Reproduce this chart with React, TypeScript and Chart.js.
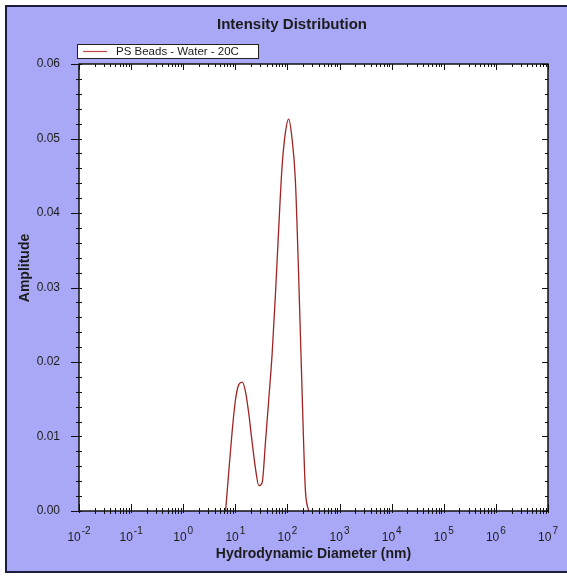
import React, { useEffect, useRef } from 'react';
import { Chart, registerables } from 'chart.js';

Chart.register(...registerables);

const TITLE = 'Intensity Distribution';
const SERIES_NAME = 'PS Beads - Water - 20C';
const X_TITLE = 'Hydrodynamic Diameter (nm)';
const Y_TITLE = 'Amplitude';

// Size classes (nm) and intensity amplitudes
const SIZE_NM = [6.503, 7.531, 8.721, 10.1, 11.7, 13.54, 15.69, 18.17, 21.04, 24.36, 28.21, 32.67, 37.84, 43.82, 50.75, 58.77, 68.06, 78.82, 91.28, 105.7, 122.4, 141.8, 164.2, 190.1, 220.2, 255.0];
const AMPLITUDE = [0, 0.0055, 0.0108, 0.015, 0.017, 0.0173, 0.016, 0.013, 0.0092, 0.0057, 0.0034, 0.0038, 0.0092, 0.015, 0.021, 0.029, 0.038, 0.0462, 0.0508, 0.0526, 0.05, 0.0445, 0.0315, 0.0165, 0.003, 0];

const X_EXPONENTS = [-2, -1, 0, 1, 2, 3, 4, 5, 6, 7];
const X_MINOR_FACTORS = [2, 3, 4, 5, 6, 7, 8, 9];
const Y_TICKS = [0, 0.01, 0.02, 0.03, 0.04, 0.05, 0.06];
const Y_MINOR_PER_MAJOR = 4;

const FONT = '"Liberation Sans", Arial, Helvetica, sans-serif';
const BG = '#a8a8f6';
const LINE_COLOR = 'rgb(160,36,36)';
const AXIS_COLOR = '#111111';
const TEXT_COLOR = '#1c1c1c';

const decorPlugin = {
  id: 'decor',
  beforeDraw(chart: any) {
    const { ctx, chartArea: a } = chart;
    ctx.save();
    ctx.fillStyle = '#ffffff';
    ctx.fillRect(a.left, a.top, a.right - a.left, a.bottom - a.top);
    ctx.restore();
  },
  afterDraw(chart: any) {
    const { ctx, chartArea: a, scales } = chart;
    const xs = scales.x;
    const ys = scales.y;
    ctx.save();
    ctx.strokeStyle = AXIS_COLOR;
    ctx.lineWidth = 1;
    ctx.beginPath();
    // x ticks (bottom and top)
    X_EXPONENTS.forEach((e, i) => {
      const px = Math.round(xs.getPixelForValue(Math.pow(10, e))) + 0.5;
      ctx.moveTo(px, a.bottom - 7);
      ctx.lineTo(px, a.bottom + 2);
      ctx.moveTo(px, a.top);
      ctx.lineTo(px, a.top + 6);
      if (i < X_EXPONENTS.length - 1) {
        X_MINOR_FACTORS.forEach((f) => {
          const pm = Math.round(xs.getPixelForValue(f * Math.pow(10, e))) + 0.5;
          ctx.moveTo(pm, a.bottom - 3);
          ctx.lineTo(pm, a.bottom + 3);
          ctx.moveTo(pm, a.top);
          ctx.lineTo(pm, a.top + 3);
        });
      }
    });
    // y ticks (left and right)
    Y_TICKS.forEach((v, i) => {
      const py = Math.round(ys.getPixelForValue(v)) + 0.5;
      ctx.moveTo(a.left - 8, py);
      ctx.lineTo(a.left + 3, py);
      ctx.moveTo(a.right - 6, py);
      ctx.lineTo(a.right, py);
      if (i < Y_TICKS.length - 1) {
        const step = (Y_TICKS[i + 1] - v) / (Y_MINOR_PER_MAJOR + 1);
        for (let k = 1; k <= Y_MINOR_PER_MAJOR; k++) {
          const pm = Math.round(ys.getPixelForValue(v + k * step)) + 0.5;
          ctx.moveTo(a.left - 3, pm);
          ctx.lineTo(a.left + 3, pm);
          ctx.moveTo(a.right - 3, pm);
          ctx.lineTo(a.right, pm);
        }
      }
    });
    ctx.stroke();
    // plot frame
    ctx.lineWidth = 1.5;
    ctx.strokeRect(a.left, a.top, a.right - a.left, a.bottom - a.top);

    // x tick labels 10^e
    ctx.fillStyle = TEXT_COLOR;
    ctx.textBaseline = 'alphabetic';
    ctx.textAlign = 'left';
    X_EXPONENTS.forEach((e) => {
      const px = xs.getPixelForValue(Math.pow(10, e));
      const base = '10';
      const sup = String(e);
      ctx.font = `12px ${FONT}`;
      const w1 = ctx.measureText(base).width;
      ctx.font = `10px ${FONT}`;
      const w2 = ctx.measureText(sup).width;
      const x0 = px - (w1 + w2 + 1) / 2;
      ctx.font = `12px ${FONT}`;
      ctx.fillText(base, x0, a.bottom + 30);
      ctx.font = `10px ${FONT}`;
      ctx.fillText(sup, x0 + w1 + 1, a.bottom + 23);
    });

    // axis titles
    ctx.font = `bold 14px ${FONT}`;
    ctx.textAlign = 'center';
    ctx.textBaseline = 'middle';
    ctx.fillText(X_TITLE, (a.left + a.right) / 2, a.bottom + 43);
    ctx.save();
    ctx.translate(18, 261);
    ctx.rotate(-Math.PI / 2);
    ctx.fillText(Y_TITLE, 0, 0);
    ctx.restore();

    // chart title
    ctx.font = `bold 15px ${FONT}`;
    ctx.fillText(TITLE, 285, 18);

    // legend box
    const lx = 70, ly = 37.5, lw = 181, lh = 14;
    ctx.fillStyle = '#ffffff';
    ctx.fillRect(lx, ly, lw, lh);
    ctx.strokeStyle = '#222222';
    ctx.lineWidth = 1;
    ctx.strokeRect(lx + 0.5, ly, lw, lh);
    ctx.strokeStyle = 'rgb(190,70,70)';
    ctx.lineWidth = 1.2;
    ctx.beginPath();
    ctx.moveTo(lx + 6, ly + 7);
    ctx.lineTo(lx + 30, ly + 7);
    ctx.stroke();
    ctx.fillStyle = TEXT_COLOR;
    ctx.font = `11.5px ${FONT}`;
    ctx.textAlign = 'left';
    ctx.textBaseline = 'middle';
    ctx.fillText(SERIES_NAME, lx + 39, ly + 7.5);
    ctx.restore();
  },
};

export default function App() {
  const ref = useRef<HTMLCanvasElement>(null);
  useEffect(() => {
    const canvas = ref.current;
    if (!canvas) return;
    const chart = new Chart(canvas, {
      type: 'line',
      data: {
        datasets: [
          {
            label: SERIES_NAME,
            data: SIZE_NM.map((x, i) => ({ x, y: AMPLITUDE[i] })),
            borderColor: LINE_COLOR,
            borderWidth: 1.3,
            pointRadius: 0,
            fill: false,
            cubicInterpolationMode: 'monotone',
          },
        ],
      },
      options: {
        responsive: false,
        maintainAspectRatio: false,
        animation: false,
        layout: { padding: { left: 0, right: 19, top: 57, bottom: 60 } },
        plugins: {
          legend: { display: false },
          title: { display: false },
          tooltip: { enabled: false },
        },
        scales: {
          x: { type: 'logarithmic', min: 0.01, max: 1e7, display: false },
          y: {
            type: 'linear',
            min: 0,
            max: 0.06,
            afterFit: (s: any) => {
              s.width = 72;
            },
            grid: { display: false, drawTicks: false },
            border: { display: false },
            ticks: {
              stepSize: 0.01,
              padding: 19,
              color: TEXT_COLOR,
              font: { family: FONT, size: 12 },
              callback: (v: any) => Number(v).toFixed(2),
            },
          },
        },
      },
      plugins: [decorPlugin],
    } as any);
    return () => chart.destroy();
  }, []);

  return (
    <div
      style={{
        position: 'absolute',
        left: 5,
        top: 5,
        width: 562,
        height: 568,
        boxSizing: 'border-box',
        background: BG,
        borderLeft: '2px solid #1c1c3c',
        borderTop: '2px solid #1c1c3c',
        borderBottom: '2px solid #1c1c3c',
      }}
    >
      <canvas ref={ref} width={560} height={564} style={{ display: 'block' }} />
    </div>
  );
}
